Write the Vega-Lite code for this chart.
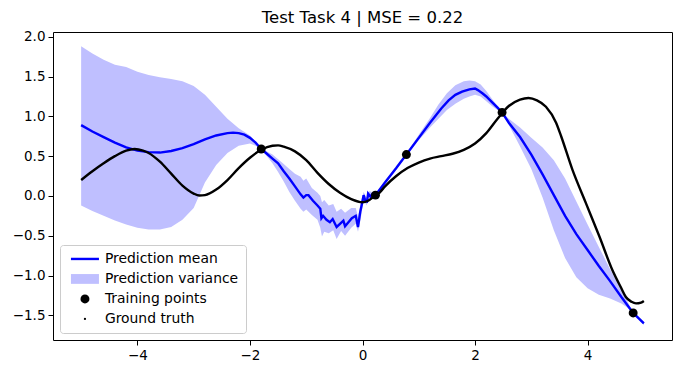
{
  "$schema": "https://vega.github.io/schema/vega-lite/v6.json",
  "autosize": {"type": "none"},
  "padding": {"left": 53, "top": 32, "right": 11, "bottom": 34},
  "width": 619,
  "height": 308,
  "title": {"text": "Test Task 4 | MSE = 0.22", "font": "DejaVu Sans", "fontSize": 16.5, "fontWeight": "normal", "color": "black", "offset": 3},
  "config": {
    "view": {"stroke": "black", "strokeWidth": 1},
    "axis": {"grid": false, "domain": false, "tickColor": "black", "tickSize": 5, "tickWidth": 1, "labelColor": "black", "labelFont": "DejaVu Sans", "labelFontSize": 13.5, "labelPadding": 3, "title": null}
  },
  "datasets": {
    "band": [
      {"x": -5.0, "upper": 1.88, "lower": -0.12},
      {"x": -4.8, "upper": 1.79, "lower": -0.19},
      {"x": -4.6, "upper": 1.71, "lower": -0.25},
      {"x": -4.4, "upper": 1.65, "lower": -0.31},
      {"x": -4.2, "upper": 1.62, "lower": -0.36},
      {"x": -4.0, "upper": 1.56, "lower": -0.40},
      {"x": -3.8, "upper": 1.52, "lower": -0.42},
      {"x": -3.6, "upper": 1.49, "lower": -0.42},
      {"x": -3.4, "upper": 1.47, "lower": -0.39},
      {"x": -3.2, "upper": 1.44, "lower": -0.30},
      {"x": -3.0, "upper": 1.38, "lower": -0.15},
      {"x": -2.8, "upper": 1.27, "lower": 0.17},
      {"x": -2.6, "upper": 1.12, "lower": 0.39},
      {"x": -2.4, "upper": 0.97, "lower": 0.54},
      {"x": -2.2, "upper": 0.85, "lower": 0.63},
      {"x": -2.0, "upper": 0.76, "lower": 0.66},
      {"x": -1.9, "upper": 0.68, "lower": 0.63},
      {"x": -1.8, "upper": 0.59, "lower": 0.59},
      {"x": -1.7, "upper": 0.56, "lower": 0.50},
      {"x": -1.6, "upper": 0.52, "lower": 0.41},
      {"x": -1.5, "upper": 0.46, "lower": 0.30},
      {"x": -1.4, "upper": 0.40, "lower": 0.18},
      {"x": -1.3, "upper": 0.34, "lower": 0.05},
      {"x": -1.2, "upper": 0.28, "lower": -0.06},
      {"x": -1.1, "upper": 0.24, "lower": -0.16},
      {"x": -1.05, "upper": 0.19, "lower": -0.20},
      {"x": -1.0, "upper": 0.22, "lower": -0.17},
      {"x": -0.9, "upper": 0.10, "lower": -0.24},
      {"x": -0.8, "upper": 0.04, "lower": -0.30},
      {"x": -0.75, "upper": 0.00, "lower": -0.40},
      {"x": -0.72, "upper": -0.08, "lower": -0.51},
      {"x": -0.68, "upper": -0.05, "lower": -0.45},
      {"x": -0.6, "upper": -0.12, "lower": -0.47},
      {"x": -0.52, "upper": -0.10, "lower": -0.43},
      {"x": -0.46, "upper": -0.20, "lower": -0.54},
      {"x": -0.38, "upper": -0.16, "lower": -0.44},
      {"x": -0.31, "upper": -0.21, "lower": -0.50},
      {"x": -0.2, "upper": -0.15, "lower": -0.40},
      {"x": -0.12, "upper": -0.15, "lower": -0.35},
      {"x": -0.08, "upper": -0.26, "lower": -0.45},
      {"x": -0.03, "upper": -0.08, "lower": -0.28},
      {"x": 0.02, "upper": 0.05, "lower": -0.05},
      {"x": 0.07, "upper": -0.02, "lower": -0.12},
      {"x": 0.12, "upper": 0.06, "lower": -0.01},
      {"x": 0.17, "upper": 0.05, "lower": -0.01},
      {"x": 0.23, "upper": 0.02, "lower": 0.00},
      {"x": 0.4, "upper": 0.19, "lower": 0.15},
      {"x": 0.6, "upper": 0.37, "lower": 0.33},
      {"x": 0.78, "upper": 0.53, "lower": 0.51},
      {"x": 1.0, "upper": 0.77, "lower": 0.70},
      {"x": 1.2, "upper": 0.98, "lower": 0.86},
      {"x": 1.35, "upper": 1.15, "lower": 0.97},
      {"x": 1.5, "upper": 1.29, "lower": 1.08},
      {"x": 1.65, "upper": 1.39, "lower": 1.16},
      {"x": 1.8, "upper": 1.44, "lower": 1.22},
      {"x": 1.9, "upper": 1.45, "lower": 1.25},
      {"x": 2.0, "upper": 1.44, "lower": 1.27},
      {"x": 2.1, "upper": 1.40, "lower": 1.25},
      {"x": 2.2, "upper": 1.32, "lower": 1.19},
      {"x": 2.3, "upper": 1.22, "lower": 1.13},
      {"x": 2.4, "upper": 1.13, "lower": 1.08},
      {"x": 2.48, "upper": 1.05, "lower": 1.05},
      {"x": 2.6, "upper": 0.97, "lower": 0.89},
      {"x": 2.8, "upper": 0.86, "lower": 0.62},
      {"x": 3.0, "upper": 0.73, "lower": 0.34},
      {"x": 3.2, "upper": 0.61, "lower": -0.02},
      {"x": 3.4, "upper": 0.45, "lower": -0.43},
      {"x": 3.6, "upper": 0.22, "lower": -0.78},
      {"x": 3.8, "upper": -0.07, "lower": -1.02},
      {"x": 4.0, "upper": -0.36, "lower": -1.16},
      {"x": 4.2, "upper": -0.64, "lower": -1.24},
      {"x": 4.4, "upper": -0.92, "lower": -1.29},
      {"x": 4.6, "upper": -1.18, "lower": -1.35},
      {"x": 4.7, "upper": -1.31, "lower": -1.40},
      {"x": 4.81, "upper": -1.47, "lower": -1.47},
      {"x": 5.0, "upper": -1.58, "lower": -1.62}
    ],
    "mean": [
      {"x": -5.0, "y": 0.89}, {"x": -4.8, "y": 0.81}, {"x": -4.6, "y": 0.74}, {"x": -4.4, "y": 0.67},
      {"x": -4.2, "y": 0.61}, {"x": -4.0, "y": 0.57}, {"x": -3.8, "y": 0.55}, {"x": -3.6, "y": 0.545},
      {"x": -3.4, "y": 0.565}, {"x": -3.2, "y": 0.60}, {"x": -3.0, "y": 0.65}, {"x": -2.8, "y": 0.71},
      {"x": -2.6, "y": 0.76}, {"x": -2.4, "y": 0.79}, {"x": -2.3, "y": 0.795}, {"x": -2.2, "y": 0.79},
      {"x": -2.1, "y": 0.77}, {"x": -2.0, "y": 0.73}, {"x": -1.9, "y": 0.67}, {"x": -1.8, "y": 0.59},
      {"x": -1.7, "y": 0.53}, {"x": -1.6, "y": 0.47}, {"x": -1.5, "y": 0.41}, {"x": -1.4, "y": 0.31},
      {"x": -1.3, "y": 0.22}, {"x": -1.2, "y": 0.12}, {"x": -1.1, "y": 0.02}, {"x": -1.05, "y": -0.02},
      {"x": -1.0, "y": 0.01}, {"x": -0.96, "y": 0.01}, {"x": -0.88, "y": -0.06}, {"x": -0.8, "y": -0.12},
      {"x": -0.75, "y": -0.16}, {"x": -0.73, "y": -0.28}, {"x": -0.70, "y": -0.25}, {"x": -0.64, "y": -0.30},
      {"x": -0.58, "y": -0.33}, {"x": -0.53, "y": -0.29}, {"x": -0.46, "y": -0.39}, {"x": -0.40, "y": -0.35},
      {"x": -0.34, "y": -0.31}, {"x": -0.31, "y": -0.38}, {"x": -0.25, "y": -0.33}, {"x": -0.19, "y": -0.28},
      {"x": -0.12, "y": -0.25}, {"x": -0.08, "y": -0.39}, {"x": -0.04, "y": -0.20}, {"x": -0.01, "y": -0.10},
      {"x": 0.02, "y": 0.01}, {"x": 0.05, "y": -0.06}, {"x": 0.08, "y": -0.07}, {"x": 0.10, "y": 0.03},
      {"x": 0.14, "y": -0.01}, {"x": 0.17, "y": 0.02}, {"x": 0.23, "y": 0.01}, {"x": 0.4, "y": 0.17},
      {"x": 0.6, "y": 0.35}, {"x": 0.78, "y": 0.52}, {"x": 1.0, "y": 0.73}, {"x": 1.2, "y": 0.92},
      {"x": 1.4, "y": 1.10}, {"x": 1.53, "y": 1.20}, {"x": 1.65, "y": 1.27}, {"x": 1.77, "y": 1.31},
      {"x": 1.9, "y": 1.34}, {"x": 2.0, "y": 1.35}, {"x": 2.05, "y": 1.33}, {"x": 2.13, "y": 1.29},
      {"x": 2.2, "y": 1.25}, {"x": 2.3, "y": 1.18}, {"x": 2.4, "y": 1.11}, {"x": 2.48, "y": 1.05},
      {"x": 2.6, "y": 0.92}, {"x": 2.8, "y": 0.74}, {"x": 3.0, "y": 0.52}, {"x": 3.2, "y": 0.27},
      {"x": 3.4, "y": 0.01}, {"x": 3.6, "y": -0.25}, {"x": 3.8, "y": -0.48}, {"x": 4.0, "y": -0.68},
      {"x": 4.2, "y": -0.88}, {"x": 4.4, "y": -1.07}, {"x": 4.6, "y": -1.27}, {"x": 4.81, "y": -1.47},
      {"x": 5.0, "y": -1.60}
    ],
    "train": [
      {"x": -1.80, "y": 0.59}, {"x": 0.23, "y": 0.01}, {"x": 0.78, "y": 0.52}, {"x": 2.48, "y": 1.05}, {"x": 4.81, "y": -1.47}
    ],
    "truth": [
      {"x": -5.0, "y": 0.20}, {"x": -4.8, "y": 0.31}, {"x": -4.6, "y": 0.41}, {"x": -4.4, "y": 0.50},
      {"x": -4.2, "y": 0.57}, {"x": -4.05, "y": 0.59}, {"x": -3.9, "y": 0.57}, {"x": -3.8, "y": 0.54},
      {"x": -3.6, "y": 0.43}, {"x": -3.4, "y": 0.28}, {"x": -3.2, "y": 0.13}, {"x": -3.0, "y": 0.03},
      {"x": -2.9, "y": 0.005}, {"x": -2.8, "y": 0.01}, {"x": -2.6, "y": 0.08}, {"x": -2.4, "y": 0.20},
      {"x": -2.2, "y": 0.35}, {"x": -2.0, "y": 0.48}, {"x": -1.8, "y": 0.58}, {"x": -1.6, "y": 0.63},
      {"x": -1.5, "y": 0.635}, {"x": -1.4, "y": 0.62}, {"x": -1.2, "y": 0.56}, {"x": -1.0, "y": 0.45},
      {"x": -0.8, "y": 0.29}, {"x": -0.6, "y": 0.15}, {"x": -0.4, "y": 0.04}, {"x": -0.2, "y": -0.04},
      {"x": 0.0, "y": -0.08}, {"x": 0.1, "y": -0.06}, {"x": 0.2, "y": -0.01}, {"x": 0.3, "y": 0.04},
      {"x": 0.4, "y": 0.12}, {"x": 0.6, "y": 0.25}, {"x": 0.8, "y": 0.35}, {"x": 1.0, "y": 0.42},
      {"x": 1.2, "y": 0.47}, {"x": 1.4, "y": 0.50}, {"x": 1.6, "y": 0.53}, {"x": 1.8, "y": 0.58},
      {"x": 2.0, "y": 0.66}, {"x": 2.2, "y": 0.79}, {"x": 2.4, "y": 0.97}, {"x": 2.6, "y": 1.13},
      {"x": 2.8, "y": 1.21}, {"x": 2.95, "y": 1.23}, {"x": 3.1, "y": 1.20}, {"x": 3.26, "y": 1.12},
      {"x": 3.44, "y": 0.92}, {"x": 3.53, "y": 0.75}, {"x": 3.73, "y": 0.33}, {"x": 3.97, "y": -0.09},
      {"x": 4.21, "y": -0.51}, {"x": 4.44, "y": -0.93}, {"x": 4.6, "y": -1.16}, {"x": 4.68, "y": -1.27},
      {"x": 4.78, "y": -1.33}, {"x": 4.86, "y": -1.35}, {"x": 4.95, "y": -1.34}, {"x": 5.0, "y": -1.32}
    ]
  },
  "layer": [
    {
      "data": {"name": "band"},
      "mark": {"type": "area", "opacity": 1},
      "encoding": {
        "x": {"field": "x", "type": "quantitative", "scale": {"domain": [-5.5, 5.5], "nice": false, "zero": false}, "axis": {"values": [-4, -2, 0, 2, 4], "format": "d"}},
        "y": {"field": "upper", "type": "quantitative", "scale": {"domain": [-1.81, 2.06], "nice": false, "zero": false}, "axis": {"values": [-1.5, -1.0, -0.5, 0.0, 0.5, 1.0, 1.5, 2.0], "format": ".1f"}},
        "y2": {"field": "lower"},
        "color": {
          "datum": "Prediction variance",
          "type": "nominal",
          "scale": {"domain": ["Prediction mean", "Prediction variance", "Training points", "Ground truth"], "range": ["#0000ff", "#bfbfff", "#000000", "#000000"]},
          "legend": {
            "title": null,
            "orient": "bottom-left",
            "offset": 7,
            "padding": 7,
            "strokeColor": "#cccccc",
            "fillColor": "rgba(255,255,255,0.8)",
            "cornerRadius": 3,
            "labelFont": "DejaVu Sans",
            "labelFontSize": 13.9,
            "labelColor": "black",
            "symbolSize": 150,
            "symbolOffset": 11,
            "labelOffset": 13,
            "rowPadding": 5,
            "encoding": {
              "symbols": {
                "shape": {"value": {"expr": "datum.value === 'Prediction mean' ? 'stroke' : datum.value === 'Prediction variance' ? 'M-1,-0.35L1,-0.35L1,0.35L-1,0.35Z' : 'circle'"}},
                "size": {"value": {"expr": "datum.value === 'Prediction mean' ? 784 : datum.value === 'Prediction variance' ? 784 : datum.value === 'Training points' ? 80 : 5"}},
                "fill": {"value": {"expr": "datum.value === 'Prediction mean' ? 'transparent' : datum.value === 'Prediction variance' ? '#bfbfff' : 'black'"}},
                "stroke": {"value": {"expr": "datum.value === 'Prediction mean' ? 'blue' : 'transparent'"}},
                "strokeWidth": {"value": {"expr": "datum.value === 'Prediction mean' ? 2.4 : 0"}},
                "opacity": {"value": 1},
                "fillOpacity": {"value": 1},
                "strokeOpacity": {"value": 1}
              }
            }
          }
        }
      }
    },
    {
      "data": {"name": "mean"},
      "mark": {"type": "line", "strokeWidth": 2.4},
      "encoding": {
        "x": {"field": "x", "type": "quantitative"},
        "y": {"field": "y", "type": "quantitative"},
        "color": {"datum": "Prediction mean", "type": "nominal"}
      }
    },
    {
      "data": {"name": "train"},
      "mark": {"type": "point", "filled": true, "size": 80, "opacity": 1},
      "encoding": {
        "x": {"field": "x", "type": "quantitative"},
        "y": {"field": "y", "type": "quantitative"},
        "color": {"datum": "Training points", "type": "nominal"}
      }
    },
    {
      "data": {"name": "truth"},
      "mark": {"type": "line", "strokeWidth": 2.4, "interpolate": "monotone"},
      "encoding": {
        "x": {"field": "x", "type": "quantitative"},
        "y": {"field": "y", "type": "quantitative"},
        "color": {"datum": "Ground truth", "type": "nominal"}
      }
    }
  ]
}
